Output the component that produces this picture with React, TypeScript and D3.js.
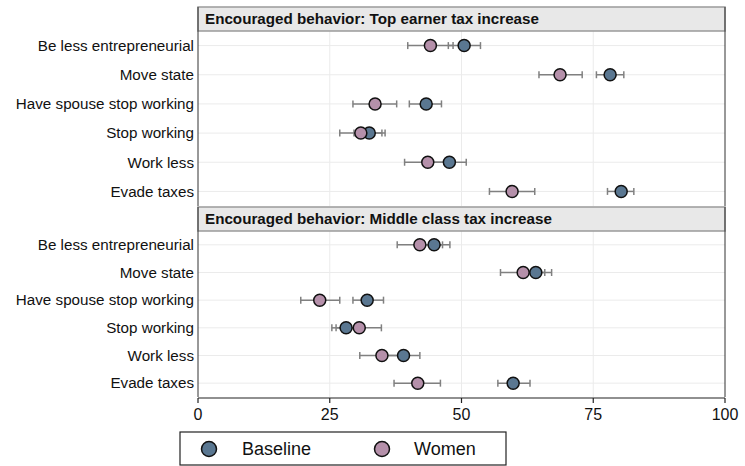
import React from "react";
import { scaleLinear, scalePoint } from "d3";

// categories, top to bottom
const categories = [
  "Be less entrepreneurial",
  "Move state",
  "Have spouse stop working",
  "Stop working",
  "Work less",
  "Evade taxes",
];
const ticks = [0, 25, 50, 75, 100];
const panelTitles = [
  "Encouraged behavior: Top earner tax increase",
  "Encouraged behavior: Middle class tax increase",
];

// top earner panel
const topBaseMean = [50.5, 78.2, 43.3, 32.5, 47.7, 80.3];
const topBaseLo = [47.5, 75.6, 40.1, 29.6, 44.5, 77.7];
const topBaseHi = [53.6, 80.8, 46.2, 35.5, 50.9, 82.7];
const topWomenMean = [44.1, 68.7, 33.6, 30.9, 43.6, 59.6];
const topWomenLo = [39.8, 64.7, 29.4, 26.9, 39.2, 55.3];
const topWomenHi = [48.4, 72.9, 37.7, 34.9, 48.0, 63.9];

// middle class panel
const midBaseMean = [44.8, 64.1, 32.1, 28.1, 39.0, 59.8];
const midBaseLo = [41.7, 61.0, 29.4, 25.4, 35.8, 56.9];
const midBaseHi = [47.8, 67.1, 35.2, 30.7, 42.1, 63.0];
const midWomenMean = [42.1, 61.7, 23.1, 30.6, 34.9, 41.7];
const midWomenLo = [37.8, 57.4, 19.5, 26.2, 30.7, 37.2];
const midWomenHi = [46.4, 65.8, 26.9, 34.8, 39.0, 46.0];

const BLUE = "#5a7791";
const PINK = "#b590aa";
const FONT = "'Liberation Sans', Arial, sans-serif";

const W = 745;
const H = 466;
const left = 198;
const right = 725;

const x = scaleLinear().domain([0, 100]).range([left, right]);

const panels = [
  {
    title: panelTitles[0],
    top: 7,
    stripH: 24,
    bottom: 206,
    series: [
      { color: BLUE, mean: topBaseMean, lo: topBaseLo, hi: topBaseHi },
      { color: PINK, mean: topWomenMean, lo: topWomenLo, hi: topWomenHi },
    ],
  },
  {
    title: panelTitles[1],
    top: 207,
    stripH: 24,
    bottom: 397,
    series: [
      { color: BLUE, mean: midBaseMean, lo: midBaseLo, hi: midBaseHi },
      { color: PINK, mean: midWomenMean, lo: midWomenLo, hi: midWomenHi },
    ],
  },
];

function Panel({ p }: { p: (typeof panels)[number] }) {
  const y = scalePoint<string>()
    .domain(categories)
    .range([p.top + p.stripH, p.bottom])
    .padding(0.5);
  const cap = 3.5;
  return (
    <g>
      {/* grid */}
      {ticks.slice(1, -1).map((t) => (
        <line key={"v" + t} x1={x(t)} x2={x(t)} y1={p.top + p.stripH} y2={p.bottom} stroke="#ebebeb" />
      ))}
      {categories.map((c) => (
        <line key={"h" + c} x1={left} x2={right} y1={y(c)} y2={y(c)} stroke="#ebebeb" />
      ))}
      {/* strip */}
      <rect x={left} y={p.top} width={right - left} height={p.stripH} fill="#e8e8e8" stroke="#9a9a9a" strokeWidth={1.5} />
      <text x={left + 7} y={p.top + 17} fontFamily={FONT} fontSize={15.2} fontWeight="bold" fill="#111">
        {p.title}
      </text>
      {/* side borders */}
      <line x1={left} x2={left} y1={p.top} y2={p.bottom} stroke="#333" />
      <line x1={right} x2={right} y1={p.top} y2={p.bottom} stroke="#333" />
      {/* category labels */}
      {categories.map((c) => (
        <text key={"l" + c} x={194} y={y(c)} dy="0.35em" textAnchor="end" fontFamily={FONT} fontSize={15.2} fill="#111">
          {c}
        </text>
      ))}
      {/* error bars */}
      {p.series.map((s, si) =>
        categories.map((c, i) => {
          const yy = y(c) as number;
          return (
            <g key={"e" + si + c} stroke="#808080" strokeWidth={1.5}>
              <line x1={x(s.lo[i])} x2={x(s.hi[i])} y1={yy} y2={yy} />
              <line x1={x(s.lo[i])} x2={x(s.lo[i])} y1={yy - cap} y2={yy + cap} />
              <line x1={x(s.hi[i])} x2={x(s.hi[i])} y1={yy - cap} y2={yy + cap} />
            </g>
          );
        })
      )}
      {/* points */}
      {p.series.map((s, si) =>
        categories.map((c, i) => (
          <circle key={"p" + si + c} cx={x(s.mean[i])} cy={y(c)} r={6} fill={s.color} stroke="#111" strokeWidth={1.5} />
        ))
      )}
    </g>
  );
}

export default function App() {
  const axisY = panels[1].bottom + 1;
  return (
    <svg width={W} height={H} style={{ position: "absolute", left: 0, top: 0, background: "#fff" }}>
      <rect width={W} height={H} fill="#fff" />
      {panels.map((p, i) => (
        <Panel key={i} p={p} />
      ))}
      {/* x axis */}
      <line x1={left} x2={right} y1={axisY} y2={axisY} stroke="#222" strokeWidth={1.2} />
      {ticks.map((t) => (
        <g key={"t" + t}>
          <line x1={x(t)} x2={x(t)} y1={axisY} y2={axisY + 5} stroke="#222" strokeWidth={1.2} />
          <text x={x(t)} y={axisY + 22} textAnchor="middle" fontFamily={FONT} fontSize={16} fill="#111">
            {t}
          </text>
        </g>
      ))}
      {/* legend */}
      <rect x={180} y={432} width={326} height={33} fill="#fff" stroke="#222" strokeWidth={1.2} />
      <circle cx={209} cy={449} r={7.5} fill={BLUE} stroke="#111" strokeWidth={1.5} />
      <text x={242} y={449} dy="0.35em" fontFamily={FONT} fontSize={18} fill="#111">
        Baseline
      </text>
      <circle cx={382} cy={449} r={7.5} fill={PINK} stroke="#111" strokeWidth={1.5} />
      <text x={414} y={449} dy="0.35em" fontFamily={FONT} fontSize={18} fill="#111">
        Women
      </text>
    </svg>
  );
}
